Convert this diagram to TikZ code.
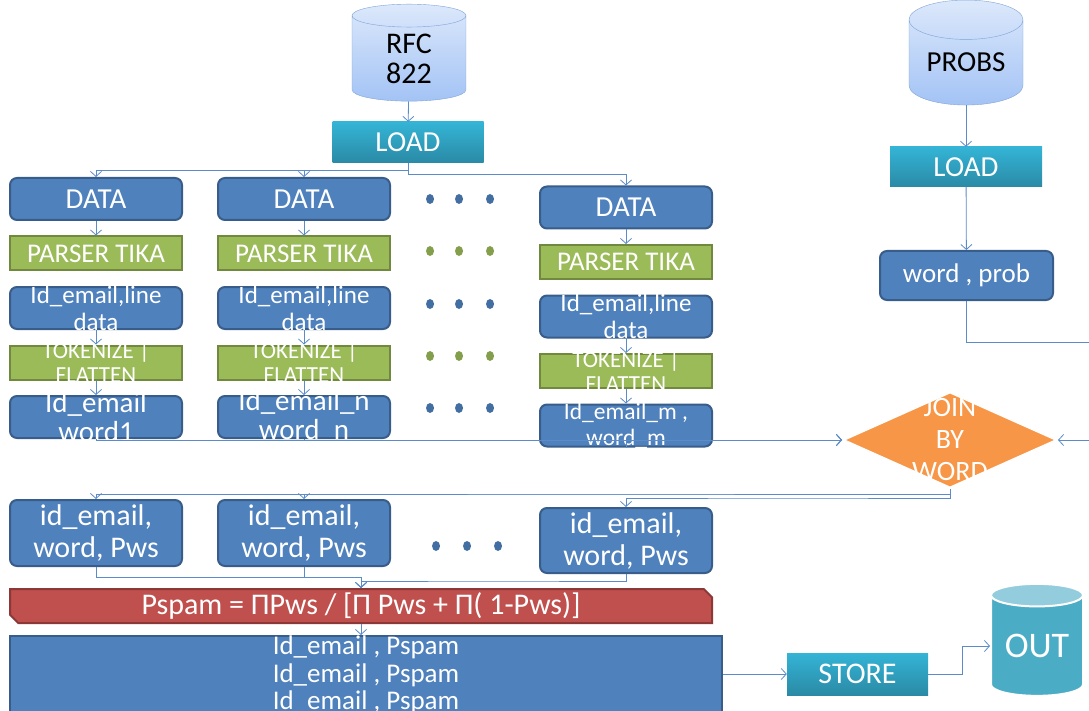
\documentclass[tikz,border=0pt]{standalone}
\usepackage{fontspec}
\setmainfont{Carlito}
\usetikzlibrary{positioning, calc, shapes.geometric, shapes.misc, arrows.meta}

\definecolor{blueFill}{HTML}{4F81BD}
\definecolor{blueLine}{HTML}{385D8A}
\definecolor{greenFill}{HTML}{9BBB59}
\definecolor{greenLine}{HTML}{71893F}
\definecolor{tealTop}{HTML}{34B4D6}
\definecolor{tealBot}{HTML}{2A8AA5}
\definecolor{redFill}{HTML}{C0504D}
\definecolor{redLine}{HTML}{8C3836}
\definecolor{joinFill}{HTML}{F79646}
\definecolor{dbTop}{HTML}{DCE8FB}
\definecolor{dbBot}{HTML}{A3C3F5}
\definecolor{dbLine}{HTML}{7FA4D6}
\definecolor{outBody}{HTML}{4BACC6}
\definecolor{outTop}{HTML}{93CDDD}
\definecolor{lineBlue}{HTML}{5B8BC9}

\begin{document}
\begin{tikzpicture}[x=1pt, y=-1pt, node distance=14.5pt,
    every node/.style={inner sep=0pt, text=white, align=center, font=\fontsize{29}{34}\selectfont},
    blk/.style={draw=blueLine, fill=blueFill, line width=2pt, rounded corners=7pt, minimum width=172pt, minimum height=42pt},
    grn/.style={draw=greenLine, fill=greenFill, line width=2pt, minimum width=172pt, minimum height=34pt},
    tealbox/.style={top color=tealTop, bottom color=tealBot, minimum height=41pt},
    db/.style={cylinder, shape border rotate=90, aspect=0.5, draw=dbLine, top color=dbTop, bottom color=dbBot, text=black, minimum width=114pt},
    ln/.style={draw=lineBlue, line width=0.8pt},
    arr/.style={ln, -{Straight Barb[length=5pt, width=11pt]}}]
    \useasboundingbox (0,0) rectangle (1089,711);

    % sources
    \node[db, minimum height=97pt, font=\fontsize{30}{30}\selectfont] (rfc) at (409,58.5) {RFC\\822};
    \node[tealbox, minimum width=151pt] (load) at (408,142.5) {LOAD};
    \node[db, minimum height=105pt] (probs) at (966,62.5) {PROBS};
    \node[tealbox, minimum width=152pt, minimum height=40pt] (loadp) at (966,167) {LOAD};
    \node[blk, minimum width=173pt, minimum height=49pt, font=\fontsize{27}{32}\selectfont] (wp) at (966.5,275.5) {word , prob};

    % column 1
    \node[blk] (d1) at (96,199) {DATA};
    \node[grn, below=of d1, font=\fontsize{27}{32}\selectfont] (p1) {PARSER TIKA};
    \node[blk, below=of p1, label={[font=\fontsize{25}{27}\selectfont]center:Id\_email,line\\data}] (i1) {};
    \node[grn, below=of i1, label={[font=\fontsize{23}{24}\selectfont]center:TOKENIZE |\\FLATTEN}] (t1) {};
    \node[blk, below=of t1, label={[font=\fontsize{29}{29}\selectfont]center:Id\_email\\word1}] (w1) {};

    % column 2
    \node[blk] (d2) at (304,199) {DATA};
    \node[grn, below=of d2, font=\fontsize{27}{32}\selectfont] (p2) {PARSER TIKA};
    \node[blk, below=of p2, label={[font=\fontsize{25}{27}\selectfont]center:Id\_email,line\\data}] (i2) {};
    \node[grn, below=of i2, label={[font=\fontsize{23}{24}\selectfont]center:TOKENIZE |\\FLATTEN}] (t2) {};
    \node[blk, below=of t2, label={[font=\fontsize{29}{29}\selectfont]center:Id\_email\_n\\word\_n}] (w2) {};

    % column m
    \node[blk] (d3) at (626,207.5) {DATA};
    \node[grn, below=of d3, font=\fontsize{27}{32}\selectfont] (p3) {PARSER TIKA};
    \node[blk, below=of p3, label={[font=\fontsize{25}{27}\selectfont]center:Id\_email,line\\data}] (i3) {};
    \node[grn, below=of i3, label={[font=\fontsize{23}{24}\selectfont]center:TOKENIZE |\\FLATTEN}] (t3) {};
    \node[blk, below=of t3, label={[font=\fontsize{23.5}{26}\selectfont]center:Id\_email\_m ,\\word\_m}] (w3) {};

    % dots between the columns
    \foreach \y/\c in {199/blueFill, 251/greenFill, 304/blueFill, 356/greenFill, 408/blueFill} {
        \foreach \x in {430, 459, 490} {
            \fill[\c!85!black] (\x,\y) ellipse (4pt and 5pt);
        }
    }

    % join
    \node[diamond, fill=joinFill, draw=white, line width=2pt, minimum width=214pt, minimum height=96pt,
          label={[font=\fontsize{28}{32}\selectfont]center:JOIN\\BY\\WORD}] (join) at (950,440) {};
    \coordinate (back) at (1100,342);

    % scored words
    \node[blk, minimum height=66pt, font=\fontsize{30}{32}\selectfont] (s1) at (96,533) {id\_email,\\word, Pws};
    \node[blk, minimum height=66pt, font=\fontsize{30}{32}\selectfont] (s2) at (304,533) {id\_email,\\word, Pws};
    \node[blk, minimum height=65pt, font=\fontsize{30}{32}\selectfont] (s3) at (626,540.5) {id\_email,\\word, Pws};
    \foreach \x in {436, 467, 498} {
        \fill[blueFill!85!black] (\x,546) ellipse (4pt and 5pt);
    }

    \node[chamfered rectangle, chamfered rectangle corners={north east, south west}, chamfered rectangle xsep=5pt,
          fill=redFill, draw=redLine, line width=2pt, minimum width=702pt, minimum height=34pt,
          font=\fontsize{30}{34}\selectfont] (pspam) at (361,606) {Pspam = ΠPws / [Π Pws + Π( 1-Pws)]};
    \node[draw=blueLine, fill=blueFill, line width=2pt, minimum width=712pt, minimum height=78pt,
          label={[font=\fontsize{27}{27.5}\selectfont]center:Id\_email , Pspam\\Id\_email , Pspam\\Id\_email , Pspam}] (res) at (366,675) {};
    \node[tealbox, minimum width=141pt, minimum height=42pt, font=\fontsize{30}{34}\selectfont] (store) at (857.5,674) {STORE};
    \node[cylinder, shape border rotate=90, aspect=0.35, cylinder uses custom fill, cylinder body fill=outBody,
          cylinder end fill=outTop, draw=white, line width=2pt, minimum width=92pt, minimum height=112pt,
          font=\fontsize{36}{40}\selectfont] (out) at (1037,646) {OUT};

    % connectors
    \draw[arr] (rfc) -- (load);
    \draw[arr] (probs) -- (loadp);
    \draw[arr] (loadp) -- (wp);
    \foreach \i/\j in {load/d1, load/d2, load/d3, join/s1, join/s2, join/s3} {
        \draw[arr] (\i.south) |- ($(\i.south)!0.5!(\j.north)$) -| (\j.north);
    }
    \foreach \i/\j in {d1/p1, i1/t1, t1/w1, d2/p2, i2/t2, t2/w2, d3/p3, i3/t3, t3/w3} {
        \draw[arr] (\i) -- (\j);
    }
    \foreach \i in {w1, w2, w3} {
        \draw[arr] (\i.south) |- (join.west);
    }
    \draw[arr] (wp.south) |- (back) |- (join.east);
    \foreach \i in {s1, s2, s3} {
        \draw[arr] (\i.south) |- ($(\i.south)!0.5!(pspam.north)$) -| (pspam.north);
    }
    \draw[arr] (pspam.south) -- (pspam.south |- res.north);
    \draw[arr] (res.east |- store.west) -- (store.west);
    \draw[arr] (store.east) -- ++(34,0) |- (out.west);
\end{tikzpicture}
\end{document}
